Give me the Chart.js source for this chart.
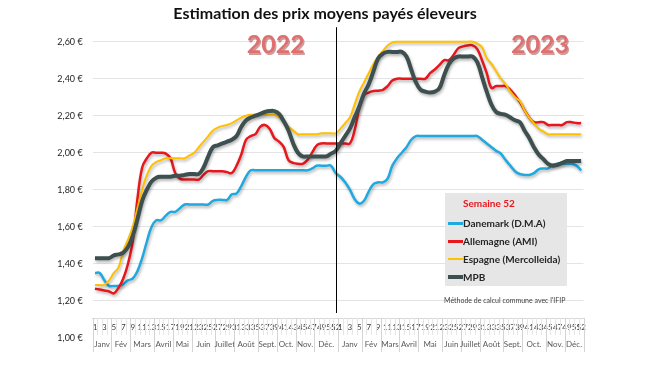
<!DOCTYPE html>
<html>
<head>
<meta charset="utf-8">
<script src="https://cdn.jsdelivr.net/npm/chart.js@4"></script>
<style>
  body { margin: 0; background: #fff; }
  #wrap { position: relative; width: 650px; height: 366px; }
  #legend { position: absolute; left: 445px; top: 193px; width: 122px; height: 93px; background: #e7e6e6;
            font-family: Lato, sans-serif; font-weight: bold; font-size: 10px; color: #262626; }
  #legend .sem { position: absolute; left: 18px; top: 4px; color: #e8161d; line-height: 12px; }
  #legend .row { position: absolute; left: 3px; line-height: 12px; white-space: nowrap; }
  #legend .sw { display: inline-block; width: 15px; vertical-align: middle; margin-top: -2px; }
  #note { position: absolute; left: 444px; top: 296px; font-family: Lato, sans-serif; font-size: 7px; color: #404040; white-space: nowrap; }
</style>
</head>
<body>
<div id="wrap">
  <canvas id="myChart" width="650" height="366"></canvas>
  <div id="legend"></div>
  <div id="note">Méthode de calcul commune avec l'IFIP</div>
</div>
<script>
// weekly prices, €/kg
var danemark2022 = [1.35,1.35,1.31,1.28,1.28,1.28,1.29,1.31,1.32,1.36,1.43,1.52,1.60,1.635,1.635,1.66,1.68,1.68,1.70,1.72,
  1.72,1.72,1.72,1.72,1.72,1.74,1.745,1.745,1.745,1.775,1.78,1.82,1.87,1.905,1.905,1.905,1.905,1.905,1.905,1.905,
  1.905,1.905,1.905,1.905,1.905,1.905,1.915,1.93,1.93,1.93,1.93,1.89];
var danemark2023 = [1.87,1.84,1.80,1.75,1.725,1.74,1.79,1.83,1.84,1.84,1.86,1.93,1.97,2.00,2.03,2.07,2.09,2.09,2.09,2.09,
  2.09,2.09,2.09,2.09,2.09,2.09,2.09,2.09,2.09,2.09,2.07,2.05,2.03,2.01,1.995,1.96,1.93,1.90,1.885,1.88,
  1.88,1.89,1.91,1.915,1.915,1.935,1.94,1.94,1.94,1.94,1.93,1.905];
var allemagne2022 = [1.265,1.26,1.255,1.25,1.24,1.27,1.32,1.40,1.52,1.75,1.92,1.97,2.00,2.00,2.00,1.995,1.97,1.89,1.86,1.855,
  1.855,1.855,1.855,1.88,1.90,1.90,1.90,1.90,1.895,1.89,1.93,1.99,2.07,2.09,2.10,2.14,2.15,2.13,2.08,2.06,
  2.03,1.96,1.945,1.94,1.94,1.96,2.00,2.04,2.05,2.05,2.05,2.05];
var allemagne2023 = [2.05,2.05,2.05,2.12,2.24,2.31,2.325,2.333,2.335,2.34,2.36,2.39,2.40,2.40,2.40,2.40,2.40,2.40,2.40,2.43,
  2.45,2.475,2.50,2.50,2.53,2.565,2.575,2.58,2.58,2.56,2.50,2.43,2.35,2.36,2.36,2.36,2.34,2.31,2.275,2.23,
  2.19,2.165,2.165,2.165,2.15,2.15,2.15,2.15,2.165,2.165,2.16,2.16];
var espagne2022 = [1.285,1.285,1.285,1.31,1.35,1.38,1.47,1.53,1.60,1.70,1.80,1.88,1.93,1.95,1.96,1.97,1.97,1.97,1.97,1.97,
  1.985,2.00,2.03,2.06,2.09,2.12,2.135,2.145,2.15,2.16,2.175,2.19,2.20,2.205,2.205,2.205,2.205,2.205,2.205,2.19,
  2.17,2.14,2.12,2.10,2.10,2.10,2.10,2.10,2.105,2.105,2.105,2.105];
var espagne2023 = [2.13,2.16,2.19,2.26,2.33,2.38,2.43,2.48,2.52,2.55,2.58,2.595,2.60,2.60,2.60,2.60,2.60,2.60,2.60,2.60,
  2.60,2.60,2.60,2.60,2.60,2.60,2.60,2.60,2.60,2.59,2.57,2.51,2.48,2.44,2.40,2.37,2.33,2.30,2.28,2.23,
  2.19,2.16,2.13,2.115,2.10,2.10,2.10,2.10,2.10,2.10,2.10,2.10];
var mpb2022 = [1.43,1.43,1.43,1.43,1.445,1.45,1.46,1.49,1.55,1.64,1.74,1.80,1.845,1.865,1.87,1.87,1.87,1.875,1.875,1.88,
  1.885,1.885,1.885,1.92,1.98,2.03,2.04,2.05,2.06,2.07,2.09,2.14,2.175,2.19,2.20,2.21,2.22,2.225,2.225,2.21,
  2.17,2.12,2.05,2.00,1.98,1.98,1.98,1.98,1.98,1.98,1.995,2.01];
var mpb2023 = [2.05,2.09,2.13,2.19,2.25,2.32,2.37,2.44,2.51,2.535,2.545,2.545,2.545,2.545,2.52,2.45,2.38,2.34,2.33,2.325,
  2.33,2.35,2.42,2.48,2.51,2.52,2.52,2.52,2.52,2.49,2.41,2.33,2.26,2.22,2.21,2.205,2.19,2.175,2.165,2.12,
  2.08,2.03,1.99,1.965,1.94,1.93,1.935,1.945,1.955,1.955,1.955,1.955];

var seriesNames = ["Danemark (D.M.A)", "Allemagne (AMI)", "Espagne (Mercolleida)", "MPB"];
var seriesColors = ["#1fa9df", "#e8161d", "#ffc000", "#3d4f4f"];
var years = ["2022", "2023"];
var months = ["Janv", "Fév", "Mars", "Avril", "Mai", "Juin", "Juillet", "Août", "Sept.", "Oct.", "Nov.", "Déc."];
var monthStart2022 = [1, 5, 9, 14, 18, 22, 27, 31, 36, 40, 44, 48];
var monthStart2023 = [1, 6, 10, 14, 18, 23, 27, 31, 36, 40, 45, 49];

var weekLabels = [];
for (var y = 0; y < 2; y++) for (var w = 1; w <= 52; w++) weekLabels.push(w);

var axisCross = 1.105;
var FONT = "Lato, 'Open Sans', sans-serif";

var decor = {
  id: 'decor',
  beforeDatasetDraw: function(chart) {
    var c = chart.ctx;
    c.save();
    c.shadowColor = 'rgba(0,0,0,0.3)';
    c.shadowBlur = 3;
    c.shadowOffsetX = 1;
    c.shadowOffsetY = 2;
  },
  afterDatasetDraw: function(chart) {
    chart.ctx.restore();
  },
  afterDraw: function(chart) {
    var ctx = chart.ctx, xs = chart.scales.x, ys = chart.scales.y;
    var half = (xs.getPixelForValue(1) - xs.getPixelForValue(0)) / 2;
    var top = Math.round(ys.getPixelForValue(axisCross));
    ctx.save();
    // week row separators
    ctx.strokeStyle = '#e6e6e6';
    ctx.lineWidth = 1;
    ctx.beginPath();
    for (var i = 0; i <= weekLabels.length; i++) {
      var px = Math.round(xs.getPixelForValue(i) - half) + 0.5;
      ctx.moveTo(px, top); ctx.lineTo(px, top + 17);
    }
    ctx.stroke();
    // months
    ctx.strokeStyle = '#d4d4d4';
    ctx.fillStyle = '#595959';
    ctx.font = '8px ' + FONT;
    ctx.textAlign = 'center';
    ctx.textBaseline = 'middle';
    [monthStart2022, monthStart2023].forEach(function(starts, yi) {
      var off = yi * 52;
      for (var m = 0; m < 12; m++) {
        var s = starts[m] - 1 + off;
        var e = (m < 11 ? starts[m + 1] - 2 : 51) + off;
        var x0 = Math.round(xs.getPixelForValue(s) - half) + 0.5;
        ctx.beginPath(); ctx.moveTo(x0, top); ctx.lineTo(x0, top + 34); ctx.stroke();
        ctx.fillText(months[m], (xs.getPixelForValue(s) + xs.getPixelForValue(e)) / 2, top + 26);
      }
    });
    var xe = Math.round(xs.getPixelForValue(103) + half) + 0.5;
    ctx.beginPath(); ctx.moveTo(xe, top); ctx.lineTo(xe, top + 34); ctx.stroke();
    // year separator
    var xsep = Math.round(xs.getPixelForValue(51) + half * 0.3) + 0.5;
    ctx.strokeStyle = '#000';
    ctx.beginPath(); ctx.moveTo(xsep, chart.chartArea.top + 4); ctx.lineTo(xsep, top - 5); ctx.stroke();
    // year labels
    ctx.font = 'bold 25px ' + FONT;
    var yy = ys.getPixelForValue(2.58);
    [[years[0], 38.3], [years[1], 94.3]].forEach(function(p) {
      var px = xs.getPixelForValue(Math.floor(p[1])) + (p[1] % 1) * half * 2;
      ctx.fillStyle = 'rgba(140,40,40,0.45)';
      ctx.fillText(p[0], px + 1.2, yy + 1.2);
      ctx.fillStyle = '#e07070';
      ctx.fillText(p[0], px, yy);
    });
    ctx.restore();
  }
};

function buildLegend() {
  var box = document.getElementById('legend');
  var html = '<div class="sem">Semaine 52</div>';
  var rowsY = [24, 42, 60, 78];
  for (var i = 0; i < seriesNames.length; i++) {
    var h = i === 3 ? 4 : (i === 2 ? 2 : 3);
    html += '<div class="row" style="top:' + rowsY[i] + 'px"><span class="sw" style="height:' + h +
      'px;background:' + seriesColors[i] + '"></span>' + seriesNames[i] + '</div>';
  }
  box.innerHTML = html;
}

function renderChart() {
  var ctx = document.getElementById('myChart').getContext('2d');
  var widths = [2.5, 2.5, 2, 4];
  var data = [danemark2022.concat(danemark2023), allemagne2022.concat(allemagne2023),
              espagne2022.concat(espagne2023), mpb2022.concat(mpb2023)];
  var datasets = seriesNames.map(function(name, i) {
    return {
      label: name,
      data: data[i],
      borderColor: seriesColors[i],
      backgroundColor: seriesColors[i],
      borderWidth: widths[i],
      pointRadius: 0,
      tension: 0.4,
      fill: false,
      order: 3 - i
    };
  });
  new Chart(ctx, {
    type: 'line',
    data: { labels: weekLabels, datasets: datasets },
    options: {
      responsive: false,
      animation: false,
      layout: { padding: { left: 0, right: 0, top: 0, bottom: 28.3 } },
      plugins: {
        legend: { display: false },
        tooltip: { enabled: false },
        title: {
          display: true,
          text: 'Estimation des prix moyens payés éleveurs',
          color: '#111',
          font: { family: FONT, size: 16, weight: 'bold' },
          padding: { top: 4, bottom: 0 }
        }
      },
      scales: {
        x: {
          type: 'category',
          offset: true,
          position: { y: axisCross },
          grid: { display: false },
          border: { display: true, color: '#d9d9d9' },
          ticks: {
            autoSkip: false, maxRotation: 0, minRotation: 0, padding: -4,
            color: '#404040', font: { family: FONT, size: 8 },
            callback: function(v, idx) {
              var wk = weekLabels[idx];
              return (wk % 2 === 1 || wk === 52) ? String(wk) : '';
            }
          }
        },
        y: {
          min: 1, max: 2.7,
          afterBuildTicks: function(s) { s.ticks = s.ticks.filter(function(t) { return t.value <= 2.6001; }); },
          afterFit: function(s) { s.width = 92.6; },
          grid: {
            drawTicks: false,
            color: function(c) { return c.tick && c.tick.value < 1.01 ? 'rgba(0,0,0,0)' : '#e4e4e4'; }
          },
          border: { display: false },
          ticks: {
            stepSize: 0.2, padding: 10, color: '#262626', font: { family: FONT, size: 9 },
            callback: function(v) { return v.toFixed(2).replace('.', ',') + ' €'; }
          }
        },
        // empty right margin, keeps the title centred on the whole picture
        yRight: {
          position: 'right',
          grid: { display: false, drawTicks: false },
          border: { display: false },
          ticks: { display: false },
          afterFit: function(s) { s.width = 66.5; }
        }
      }
    },
    plugins: [decor]
  });
}

window.onload = function() {
  buildLegend();
  renderChart();
};
</script>
</body>
</html>
